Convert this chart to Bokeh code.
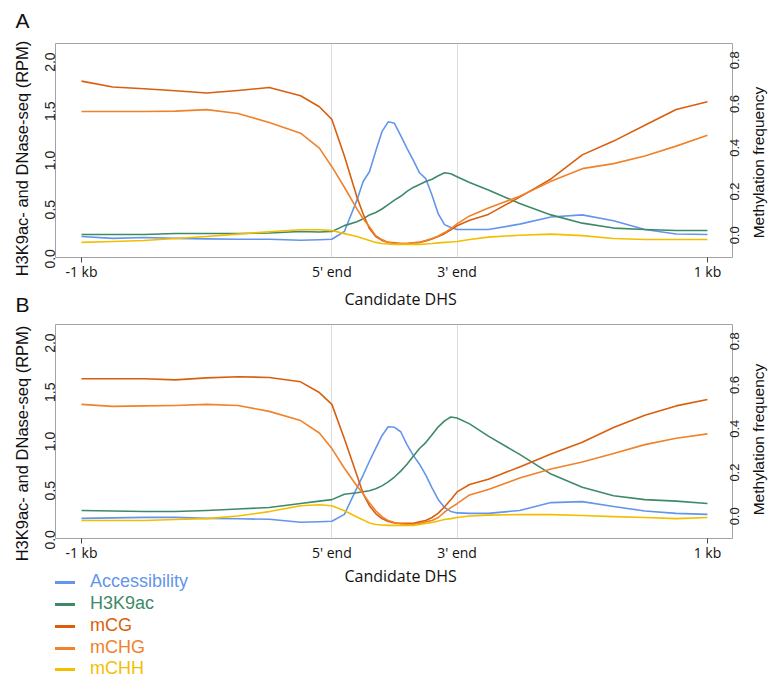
import math
import numpy as np
from bokeh.plotting import figure
from bokeh.models import Range1d, LinearAxis, FixedTicker, Label, Legend, LegendItem, PrintfTickFormatter
from bokeh.layouts import column, row
from bokeh.embed import file_html
from bokeh.resources import INLINE

# ---------------- data ----------------
# position along the candidate DHS profile: 0 = -1 kb, 40 = 5' end, 60 = 3' end, 100 = +1 kb
pos = [0, 5, 10, 15, 20, 25, 30, 35, 38, 40, 42, 44, 45, 46, 47, 48, 49, 50, 51, 52, 53,
       54, 55, 56, 57, 58, 59, 60, 62, 65, 70, 75, 80, 85, 90, 95, 100]

x_ticks = [0, 40, 60, 100]
x_tick_labels = ["-1 kb", "5' end", "3' end", "1 kb"]
left_ticks = [0.0, 0.5, 1.0, 1.5, 2.0]
right_ticks = [0.0, 0.2, 0.4, 0.6, 0.8]

series_names = ["Accessibility", "H3K9ac", "mCG", "mCHG", "mCHH"]
panel_letters = ["A", "B"]
x_title = "Candidate DHS"
left_title = "H3K9ac- and DNase-seq (RPM)"
right_title = "Methylation frequency"

# Panel A  (Accessibility / H3K9ac in RPM, methylation as frequency)
acc_a = [0.129, 0.109, 0.119, 0.109, 0.104, 0.100, 0.100, 0.090, 0.095, 0.100, 0.179, 0.498, 0.687,
         0.786, 0.995, 1.194, 1.294, 1.279, 1.154, 1.025, 0.905, 0.776, 0.716, 0.547, 0.358, 0.249,
         0.219, 0.199, 0.199, 0.199, 0.254, 0.326, 0.348, 0.289, 0.199, 0.154, 0.149]
h3_a = [0.149, 0.149, 0.149, 0.159, 0.159, 0.159, 0.164, 0.179, 0.174, 0.179, 0.239, 0.279, 0.308,
        0.348, 0.373, 0.408, 0.453, 0.498, 0.537, 0.587, 0.627, 0.657, 0.687, 0.711, 0.746, 0.776,
        0.766, 0.736, 0.677, 0.602, 0.463, 0.348, 0.264, 0.214, 0.199, 0.189, 0.189]
mcg_a = [0.746, 0.719, 0.711, 0.702, 0.692, 0.703, 0.717, 0.679, 0.629, 0.571, 0.404, 0.216, 0.139,
         0.072, 0.036, 0.018, 0.009, 0.007, 0.004, 0.004, 0.007, 0.009, 0.016, 0.025, 0.036, 0.049,
         0.067, 0.085, 0.110, 0.137, 0.216, 0.299, 0.409, 0.472, 0.544, 0.616, 0.652]
mchg_a = [0.607, 0.607, 0.607, 0.609, 0.616, 0.598, 0.557, 0.508, 0.440, 0.355, 0.261, 0.162, 0.117,
          0.081, 0.040, 0.022, 0.009, 0.004, 0.004, 0.004, 0.007, 0.009, 0.018, 0.027, 0.038, 0.054,
          0.072, 0.094, 0.130, 0.166, 0.220, 0.288, 0.346, 0.369, 0.404, 0.449, 0.499]
mchh_a = [0.009, 0.013, 0.018, 0.027, 0.036, 0.047, 0.058, 0.067, 0.067, 0.063, 0.049, 0.036, 0.027,
          0.018, 0.009, 0.004, 0.002, 0.0, 0.0, 0.0, 0.0, 0.0, 0.002, 0.004, 0.007, 0.009,
          0.011, 0.013, 0.022, 0.033, 0.042, 0.047, 0.040, 0.027, 0.022, 0.022, 0.022]

# Panel B
acc_b = [0.12, 0.125, 0.13, 0.13, 0.12, 0.115, 0.11, 0.08, 0.085, 0.09, 0.16, 0.43, 0.56,
         0.70, 0.83, 0.96, 1.05, 1.045, 1.00, 0.87, 0.76, 0.67, 0.56, 0.43, 0.31, 0.23,
         0.19, 0.175, 0.17, 0.17, 0.20, 0.28, 0.29, 0.24, 0.195, 0.17, 0.16]
h3_b = [0.20, 0.195, 0.19, 0.19, 0.20, 0.215, 0.23, 0.27, 0.295, 0.31, 0.365, 0.38, 0.39,
        0.40, 0.42, 0.45, 0.49, 0.54, 0.60, 0.67, 0.75, 0.83, 0.89, 0.97, 1.05, 1.11,
        1.15, 1.14, 1.08, 0.955, 0.77, 0.57, 0.435, 0.35, 0.31, 0.295, 0.27]
mcg_b = [0.670, 0.670, 0.670, 0.665, 0.674, 0.679, 0.676, 0.656, 0.607, 0.553, 0.396, 0.229, 0.144,
         0.090, 0.054, 0.031, 0.018, 0.011, 0.009, 0.009, 0.009, 0.016, 0.022, 0.036, 0.056, 0.085,
         0.117, 0.153, 0.187, 0.211, 0.267, 0.326, 0.380, 0.447, 0.503, 0.546, 0.575]
mchg_b = [0.553, 0.544, 0.546, 0.548, 0.553, 0.548, 0.521, 0.479, 0.422, 0.351, 0.261, 0.180, 0.144,
          0.103, 0.067, 0.040, 0.022, 0.013, 0.007, 0.004, 0.004, 0.009, 0.016, 0.022, 0.036, 0.061,
          0.081, 0.099, 0.139, 0.164, 0.216, 0.258, 0.290, 0.328, 0.369, 0.398, 0.418]
mchh_b = [0.022, 0.022, 0.022, 0.027, 0.031, 0.043, 0.063, 0.090, 0.094, 0.090, 0.067, 0.038, 0.025,
          0.011, 0.004, 0.002, 0.0, 0.0, 0.0, 0.0, 0.0, 0.004, 0.009, 0.013, 0.020, 0.027,
          0.031, 0.036, 0.043, 0.047, 0.049, 0.049, 0.045, 0.040, 0.036, 0.031, 0.036]

# ---------------- styling / layout ----------------
colors = ["#6495ed", "#3e8a68", "#d95f0e", "#f0822a", "#f4be00"]
X_RANGE = (-4.15, 104.0)
LEFT_RANGE = (-0.085, 2.09)
RIGHT_RANGE = (-0.06, 0.918)
FRAME_GRAY = "#a3a3a3"
TEXT = "#111111"
SANS = "Liberation Sans"
XFONT = "Open Sans"

TOTAL_H = 678
LEFT_W = 33       # column with panel letters and left axis titles
RIGHT_W = 19      # column with right axis titles
PLOT_W = 716      # panels (frame 55..732 on the page)
H_A, H_MID, H_B, H_BOT = 283, 39, 242, 114


def blank(width, height):
    """A bare canvas whose data units equal pixels (holds titles and the legend)."""
    b = figure(width=width, height=height, output_backend="svg", toolbar_location=None,
               x_range=Range1d(0, width), y_range=Range1d(0, height), title=None,
               x_axis_location=None, y_axis_location=None, min_border=0)
    b.outline_line_color = None
    b.grid.visible = False
    b.background_fill_color = "white"
    b.border_fill_color = "white"
    return b


def make_panel(height, border_top, border_bottom, series):
    p = figure(width=PLOT_W, height=height, output_backend="svg", toolbar_location=None,
               x_range=Range1d(*X_RANGE), y_range=Range1d(*LEFT_RANGE), title=None,
               min_border_left=22, min_border_right=17,
               min_border_top=border_top, min_border_bottom=border_bottom)
    p.extra_y_ranges = {"meth": Range1d(*RIGHT_RANGE)}
    p.outline_line_color = FRAME_GRAY
    p.outline_line_width = 1
    p.background_fill_color = "white"
    p.border_fill_color = "white"

    p.xgrid[0].ticker = FixedTicker(ticks=x_ticks[1:3])
    p.xgrid[0].grid_line_color = "#dddddd"
    p.ygrid[0].visible = False

    xa = p.xaxis[0]
    xa.ticker = FixedTicker(ticks=x_ticks, minor_ticks=[x_ticks[0], x_ticks[-1]])
    xa.major_label_overrides = dict(zip(x_ticks, x_tick_labels))
    xa.axis_line_color = None
    xa.major_tick_out = 0
    xa.major_tick_in = 0
    xa.minor_tick_in = 0
    xa.minor_tick_out = 5
    xa.minor_tick_line_color = "#444444"
    xa.major_label_text_font = XFONT
    xa.major_label_text_font_size = "14px"
    xa.major_label_text_color = TEXT
    xa.major_label_standoff = -1

    ya = p.yaxis[0]
    ya.ticker = FixedTicker(ticks=left_ticks)
    ya.formatter = PrintfTickFormatter(format="%.1f")
    ya.axis_line_color = None
    ya.major_tick_out = 0
    ya.major_tick_in = 0
    ya.minor_tick_out = 0
    ya.minor_tick_in = 0
    ya.major_label_orientation = math.pi / 2
    ya.major_label_text_font = SANS
    ya.major_label_text_font_size = "14px"
    ya.major_label_text_color = "#222222"
    ya.major_label_standoff = 5

    ra = LinearAxis(y_range_name="meth", ticker=FixedTicker(ticks=right_ticks),
                    formatter=PrintfTickFormatter(format="%.1f"))
    ra.axis_line_color = None
    ra.major_tick_out = 0
    ra.major_tick_in = 0
    ra.minor_tick_out = 0
    ra.minor_tick_in = 0
    ra.major_label_orientation = math.pi / 2
    ra.major_label_text_font = SANS
    ra.major_label_text_font_size = "13px"
    ra.major_label_text_color = "#222222"
    ra.major_label_standoff = 2
    p.add_layout(ra, "right")

    acc, h3, mcg, mchg, mchh = series
    p.line(pos, acc, color=colors[0], line_width=1.6, line_join="round")
    p.line(pos, h3, color=colors[1], line_width=1.6, line_join="round")
    p.line(pos, mcg, color=colors[2], line_width=1.6, line_join="round", y_range_name="meth")
    p.line(pos, mchg, color=colors[3], line_width=1.6, line_join="round", y_range_name="meth")
    p.line(pos, mchh, color=colors[4], line_width=1.6, line_join="round", y_range_name="meth")
    return p


def vtitle(fig, text, x, y, size):
    fig.add_layout(Label(x=x, y=y, text=text, angle=math.pi / 2, text_font=SANS,
                         text_font_size=size, text_color=TEXT,
                         text_align="center", text_baseline="alphabetic"))


def xtitle(fig, y):
    fig.add_layout(Label(x=365, y=y, text=x_title, text_font=XFONT, text_font_size="16px",
                         text_color=TEXT, text_align="center", text_baseline="middle"))


def letter(fig, text, y):
    fig.add_layout(Label(x=15, y=y, text=text, text_font=SANS, text_font_size="21px",
                         text_color=TEXT, text_align="left", text_baseline="alphabetic"))


# left column: panel letters + left axis titles (y measured from the page bottom)
left = blank(LEFT_W, TOTAL_H)
letter(left, panel_letters[0], 658)
letter(left, panel_letters[1], 374)
vtitle(left, left_title, 21, 520, "16.5px")
vtitle(left, left_title, 21, 235, "16.5px")

# right column: right axis titles
right = blank(RIGHT_W, TOTAL_H)
vtitle(right, right_title, 9, 516, "15.5px")
vtitle(right, right_title, 9, 239, "15.5px")

# panels
pa = make_panel(H_A, 43, 22, (acc_a, h3_a, mcg_a, mchg_a, mchh_a))
mid = blank(PLOT_W, H_MID)
xtitle(mid, 24)
pb = make_panel(H_B, 2, 22, (acc_b, h3_b, mcg_b, mchg_b, mchh_b))

# bottom strip: x title of B and the legend, each entry coloured like its line
bot = blank(PLOT_W, H_BOT)
xtitle(bot, 103)
legend_offsets = [86, 64, 42, 20, -1]
nan_pair = np.array([np.nan, np.nan])
for name, col, off in zip(series_names, colors, legend_offsets):
    key = bot.line(x=nan_pair, y=nan_pair, color=col, line_width=3)
    lg = Legend(items=[LegendItem(label=name, renderers=[key])],
                location=(-1, off), orientation="vertical",
                label_text_font=SANS, label_text_font_size="18px", label_text_color=col,
                glyph_width=21, glyph_height=20, label_height=20, label_standoff=15,
                padding=0, margin=0, spacing=0, border_line_color=None,
                background_fill_alpha=0)
    bot.add_layout(lg)

layout = row(left, column(pa, mid, pb, bot), right)
open("out.html", "w").write(file_html(layout, INLINE))
